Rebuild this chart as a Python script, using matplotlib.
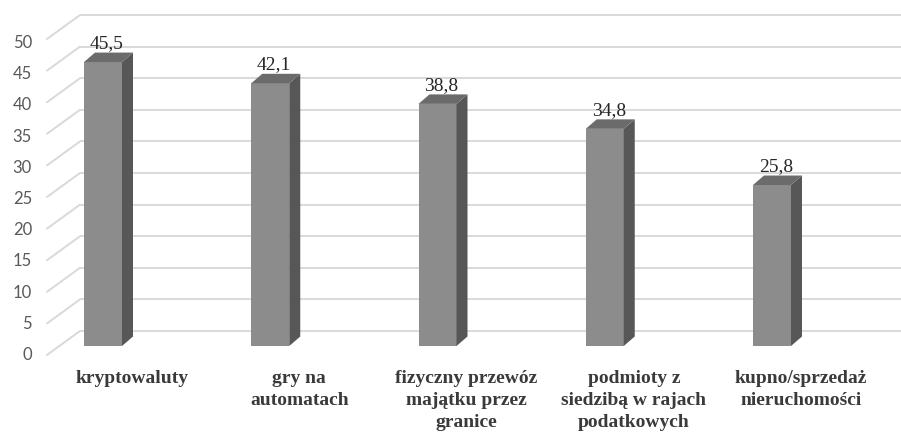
import matplotlib
matplotlib.use("Agg")
import matplotlib.pyplot as plt
from matplotlib.patches import Polygon

# Data
categories = [
    "kryptowaluty",
    "gry na\nautomatach",
    "fizyczny przewóz\nmajątku przez\ngranice",
    "podmioty z\nsiedzibą w rajach\npodatkowych",
    "kupno/sprzedaż\nnieruchomości",
]
values = [45.5, 42.1, 38.8, 34.8, 25.8]
value_labels = ["45,5", "42,1", "38,8", "34,8", "25,8"]
y_ticks = [0, 5, 10, 15, 20, 25, 30, 35, 40, 45, 50]

# Canvas geometry (pixels) for the oblique 3D look
W, H = 901, 432
PX_X = 167.25        # pixels per category step
PX_Y = 6.24          # pixels per value unit
ORIGIN_X = 103       # pixel x of the first bar's front centre
ORIGIN_Y = 346       # pixel y of the bars' base line


def ux(px):
    return px / PX_X


def uy(px):
    return px / PX_Y


fig = plt.figure(figsize=(W / 100, H / 100), dpi=100)
ax = fig.add_axes([0, 0, 1, 1])
ax.set_xlim(-ux(ORIGIN_X), ux(W - ORIGIN_X))
ax.set_ylim(-uy(H - ORIGIN_Y), uy(ORIGIN_Y))
ax.axis("off")

# Walls: back wall gridlines and side wall diagonals
grid_color = "#d9d9d9"
wall_scale = 6.32 / PX_Y
back_left = ux(80 - ORIGIN_X)
front_left = ux(47 - ORIGIN_X)
back_base = uy(15)
front_base = -uy(9)
x_right = ux(W - ORIGIN_X)
for v in y_ticks:
    yb = back_base + v * wall_scale
    yf = front_base + v * wall_scale
    ax.plot([back_left, x_right], [yb, yb], color=grid_color, lw=1.4,
            zorder=1, solid_capstyle="butt")
    ax.plot([front_left, back_left], [yf, yb], color=grid_color, lw=1.4,
            zorder=1, solid_capstyle="round")

# Y tick labels on the front edge of the side wall
label_font = ["Lato", "DejaVu Sans"]
for v in y_ticks:
    ax.text(ux(32 - ORIGIN_X), front_base + v, str(v), ha="right", va="center",
            fontsize=12, color="#595959", family=label_font)

# Bars with front, side and top faces
hw = ux(19)
ddx = ux(11)
ddy = uy(9.5)
front_col = "#8c8c8c"
side_col = "#575757"
top_col = "#6b6b6b"
for i, v in enumerate(values):
    xl, xr = i - hw, i + hw
    front = Polygon([(xl, 0), (xr, 0), (xr, v), (xl, v)], closed=True,
                    facecolor=front_col, edgecolor="none", zorder=3)
    side = Polygon([(xr, 0), (xr + ddx, ddy), (xr + ddx, v + ddy), (xr, v)],
                   closed=True, facecolor=side_col, edgecolor="none", zorder=3)
    top = Polygon([(xl, v), (xl + ddx, v + ddy), (xr + ddx, v + ddy), (xr, v)],
                  closed=True, facecolor=top_col, edgecolor="none", zorder=3)
    for p in (front, side, top):
        ax.add_patch(p)
    ax.text(i + ux(4), v + uy(14), value_labels[i], ha="center", va="baseline",
            fontsize=14, color="#262626", family=["Liberation Serif"], zorder=4)

# Category labels along the front of the floor
for i, name in enumerate(categories):
    ax.text(i + ux(29), -uy(370 - ORIGIN_Y), name, ha="center", va="top",
            fontsize=14, fontweight="bold", color="#3a3a3a",
            family=["Liberation Serif"], linespacing=1.4)

fig.savefig("out.png", dpi=100, facecolor="white")
